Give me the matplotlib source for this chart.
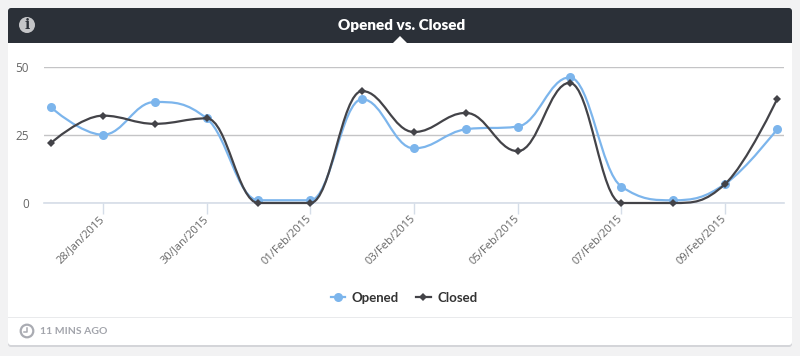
import numpy as np
import matplotlib
matplotlib.use("Agg")
import matplotlib.pyplot as plt
from matplotlib.lines import Line2D
from matplotlib.patches import Circle, FancyBboxPatch, PathPatch, Polygon, Rectangle
from matplotlib.path import Path
from matplotlib.transforms import ScaledTranslation

plt.rcParams["font.family"] = ["Open Sans", "DejaVu Sans"]

# data
opened = [35, 25, 37, 31, 1, 1, 38, 20, 27, 28, 46, 6, 1, 7, 27]
closed = [22, 32, 29, 31, 0, 0, 41, 26, 33, 19, 44, 0, 0, 7, 38]
tick_pos = [1, 3, 5, 7, 9, 11, 13]
tick_labels = ["28/Jan/2015", "30/Jan/2015", "01/Feb/2015", "03/Feb/2015",
               "05/Feb/2015", "07/Feb/2015", "09/Feb/2015"]
y_ticks = [0, 25, 50]

W, H = 800, 356
BLUE = "#7cb5ec"
DARK = "#434348"


def spline_path(ys):
    # same control points as a highcharts spline
    n = len(ys)
    verts = [(0, ys[0])]
    codes = [Path.MOVETO]
    left = [None] * n
    right = [None] * n
    for i in range(1, n - 1):
        lx = (1.5 * i + i - 1) / 2.5
        ly = (1.5 * ys[i] + ys[i - 1]) / 2.5
        rx = (1.5 * i + i + 1) / 2.5
        ry = (1.5 * ys[i] + ys[i + 1]) / 2.5
        c = (ry - ly) * (rx - i) / (rx - lx) + ys[i] - ry
        ly += c
        ry += c
        if ly > ys[i - 1] and ly > ys[i]:
            ly = max(ys[i - 1], ys[i])
            ry = 2 * ys[i] - ly
        elif ly < ys[i - 1] and ly < ys[i]:
            ly = min(ys[i - 1], ys[i])
            ry = 2 * ys[i] - ly
        if ry > ys[i + 1] and ry > ys[i]:
            ry = max(ys[i + 1], ys[i])
            ly = 2 * ys[i] - ry
        elif ry < ys[i + 1] and ry < ys[i]:
            ry = min(ys[i + 1], ys[i])
            ly = 2 * ys[i] - ry
        left[i] = (lx, ly)
        right[i] = (rx, ry)
    for i in range(1, n):
        verts += [right[i - 1] or (i - 1, ys[i - 1]), left[i] or (i, ys[i]), (i, ys[i])]
        codes += [Path.CURVE4] * 3
    return Path(verts, codes)


fig = plt.figure(figsize=(W / 100, H / 100), dpi=100, facecolor="#f2f2f3")

# card, header and footer in pixel coordinates
bg = fig.add_axes([0, 0, 1, 1])
bg.set_xlim(0, W)
bg.set_ylim(H, 0)
bg.axis("off")
bg.add_patch(FancyBboxPatch((8, 10), 784, 337, boxstyle="round,pad=0,rounding_size=3",
                            fc="#d4d5d9", ec="none"))
bg.add_patch(FancyBboxPatch((8, 8), 784, 337, boxstyle="round,pad=0,rounding_size=3",
                            fc="white", ec="none"))
bg.add_patch(FancyBboxPatch((8, 8), 784, 20, boxstyle="round,pad=0,rounding_size=3",
                            fc="#2b3038", ec="none"))
bg.add_patch(Rectangle((8, 16), 784, 27, fc="#2b3038", ec="none"))
bg.add_patch(Polygon([[393, 43], [400, 36], [407, 43]], fc="white", ec="none"))
bg.add_patch(Rectangle((8, 316.5), 784, 1.5, fc="#e9eaec", ec="none"))
bg.add_patch(Circle((27, 25), 8, fc="#c4c5c8", ec="none"))
bg.text(27, 25, "i", color="#2b3038", fontsize=10, fontweight="bold", family="DejaVu Serif",
        ha="center", va="center")
bg.add_patch(Circle((27, 331), 6.3, fc="none", ec="#a9abb2", lw=1.6))
bg.plot([27, 27, 24], [327.5, 331.5, 331.5], color="#a9abb2", lw=1.1)
bg.text(402, 25.5, "Opened vs. Closed", color="white", fontsize=11, fontweight="heavy",
        family="Lato", ha="center", va="center")
bg.text(40, 331, "11 MINS AGO", color="#a2a4ab", fontsize=7.5, fontweight="bold",
        family="Lato", ha="left", va="center")

# plot area
ax_l, ax_r, ax_t, ax_b = 44, 784, 66.5, 203
ax = fig.add_axes([ax_l / W, 1 - ax_b / H, (ax_r - ax_l) / W, (ax_b - ax_t) / H])
ax.patch.set_alpha(0)
x0, step = 51, 51.86
ax.set_xlim((ax_l - x0) / step, (ax_r - x0) / step)
ax.set_ylim(0, 50)
for s in ["top", "right", "left"]:
    ax.spines[s].set_visible(False)
ax.spines["bottom"].set_color("#d5dde8")
ax.spines["bottom"].set_linewidth(1.2)
ax.set_yticks(y_ticks)
ax.yaxis.grid(True, color="#c4c4c6", lw=1)
ax.set_axisbelow(True)
ax.tick_params(axis="y", length=0, pad=11, labelsize=8.5, labelcolor="#666666")
ax.set_xticks(tick_pos)
ax.set_xticklabels(tick_labels, rotation=45, ha="right", rotation_mode="anchor",
                   fontsize=8, color="#666666")
ax.tick_params(axis="x", length=8, width=1, color="#d5dde8", pad=3)
# labels sit a little up and left of the default anchor
for lab in ax.get_xticklabels():
    lab.set_transform(lab.get_transform() + ScaledTranslation(-4 / 100, 5 / 100, fig.dpi_scale_trans))

for ys, col, mk, ms in [(opened, BLUE, "o", 6.5), (closed, DARK, "D", 4.5)]:
    ax.add_patch(PathPatch(spline_path(ys), fc="none", ec=col, lw=1.6, clip_on=False, zorder=3))
    ax.plot(range(len(ys)), ys, ls="none", marker=mk, ms=ms, color=col, mew=0, clip_on=False, zorder=3)

handles = [Line2D([], [], color=BLUE, lw=1.6, marker="o", ms=6.5, mew=0),
           Line2D([], [], color=DARK, lw=1.6, marker="D", ms=4.5, mew=0)]
fig.legend(handles, ["Opened", "Closed"], ncol=2, frameon=False, loc="center",
           bbox_to_anchor=(404 / W, 1 - 298 / H), handlelength=1.1, handletextpad=0.5,
           columnspacing=1.3, prop={"family": "Lato", "weight": "bold", "size": 9.5},
           labelcolor="#333333")

fig.savefig("out.png", dpi=100, facecolor=fig.get_facecolor())
